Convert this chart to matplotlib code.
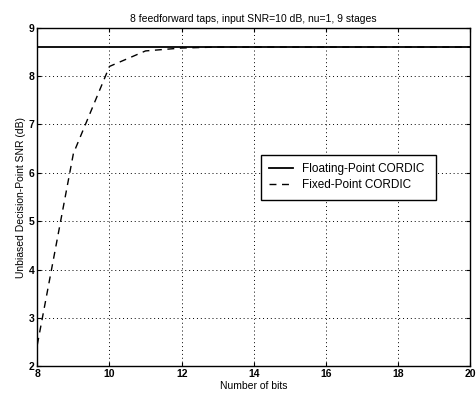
import matplotlib.pyplot as plt

plt.rcParams['font.family'] = ['Liberation Sans', 'DejaVu Sans']

bits = [8, 9, 10, 11, 12, 13, 14, 15, 16, 17, 18, 19, 20]
fixed_snr = [2.45, 6.4, 8.2, 8.52, 8.58, 8.6, 8.6, 8.6, 8.6, 8.6, 8.6, 8.6, 8.6]
float_snr = [8.6] * len(bits)

fig = plt.figure(figsize=(4.76, 3.99), dpi=100)
ax = fig.add_axes([0.0784, 0.0815, 0.9095, 0.8491])

ax.plot(bits, float_snr, 'k-', lw=1.3, label='Floating-Point CORDIC')
ax.plot(bits, fixed_snr, 'k--', lw=1.0, dashes=(5, 4), label='Fixed-Point CORDIC')

ax.set_xlim(8, 20)
ax.set_ylim(2, 9)
ax.set_xticks(range(8, 21, 2))
ax.set_yticks(range(2, 10))
ax.grid(True, color='k', linestyle=(0, (1, 3)), linewidth=0.7)
ax.tick_params(direction='in', length=3, labelsize=7.5, pad=2, top=True, right=True)
for lbl in ax.get_xticklabels() + ax.get_yticklabels():
    lbl.set_fontweight('bold')
for sp in ax.spines.values():
    sp.set_linewidth(1.0)

ax.set_xlabel('Number of bits', fontsize=7.5, labelpad=1)
ax.set_ylabel('Unbiased Decision-Point SNR (dB)', fontsize=7.5, labelpad=2)
ax.set_title('8 feedforward taps, input SNR=10 dB, nu=1, 9 stages', fontsize=7.5, pad=4)

# legend box spans the same region as in the original figure
leg = ax.legend(loc='upper left', bbox_to_anchor=(0.503, 0.49, 0.432, 0.152),
                mode='expand', fontsize=8.5, frameon=True, fancybox=False,
                edgecolor='k', framealpha=1, handlelength=2.0,
                borderpad=0.7, labelspacing=0.35)
leg.get_frame().set_linewidth(1.0)

fig.savefig('out.png', dpi=100)
